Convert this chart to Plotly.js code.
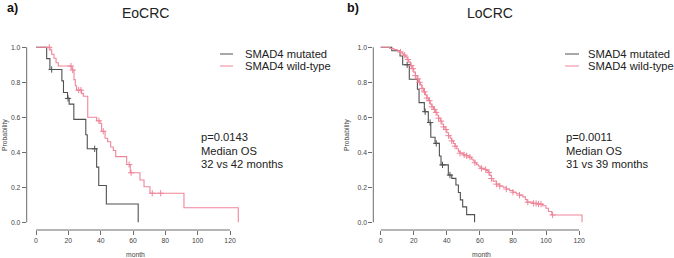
<!DOCTYPE html>
<html>
<head>
<meta charset="utf-8">
<script src="https://cdn.plot.ly/plotly-3.0.1.min.js"></script>
<style>html,body{margin:0;padding:0;background:#fff;}#chart{width:674px;height:258px;}</style>
</head>
<body>
<div id="chart"></div>
<script>
// ---------- DATA ----------
const panelTitles = ["EoCRC", "LoCRC"];
const panelLetters = ["a)", "b)"];
const seriesNames = ["SMAD4 mutated", "SMAD4 wild-type"];
const statsA = ["p=0.0143", "Median OS", "32 vs 42 months"];
const statsB = ["p=0.0011", "Median OS", "31 vs 39 months"];
const xTicks = [0, 20, 40, 60, 80, 100, 120];
const yTicks = [0, 0.2, 0.4, 0.6, 0.8, 1.0];

// Panel a) EoCRC
const aMutT = [0, 6.6, 8.6, 16, 17, 19.5, 20.5, 23.4, 30.8, 31.7, 37.5, 38.8, 43.5, 63.2];
const aMutS = [1, 0.935, 0.873, 0.808, 0.742, 0.708, 0.675, 0.588, 0.50, 0.42, 0.315, 0.21, 0.105, 0];
const aMutCens = [9.7, 19.8, 36.3];

const aWildT = [0, 8.7, 9.7, 11.1, 12.4, 13.8, 22.2, 23.5, 24.3, 25.1, 28.2, 29.3, 32.0, 37.5, 39.6, 40.6, 42.7, 44.3, 46.2, 47.8, 49.3, 56.1, 58.3, 64.3, 66.8, 70.5, 91.5, 125.1];
const aWildS = [1, 0.985, 0.96, 0.937, 0.912, 0.893, 0.87, 0.815, 0.78, 0.755, 0.735, 0.72, 0.60, 0.58, 0.565, 0.52, 0.48, 0.46, 0.43, 0.41, 0.375, 0.33, 0.283, 0.242, 0.203, 0.166, 0.083, 0];
const aWildCens = [8.2, 21.6, 22.7, 26.4, 27.8, 38.9, 41.6, 57.6, 58.8, 71.9, 77.1];

// Panel b) LoCRC
const bMutT = [0, 6.7, 11.7, 13.3, 17.3, 22.2, 23.2, 26.4, 28.8, 30.3, 32.9, 35.5, 36.5, 40.9, 43.0, 45.5, 47.0, 48.2, 49.6, 52.0, 56.8];
const bMutS = [1, 0.98, 0.95, 0.90, 0.817, 0.76, 0.684, 0.632, 0.57, 0.486, 0.451, 0.379, 0.328, 0.27, 0.251, 0.213, 0.17, 0.128, 0.088, 0.044, 0];
const bMutCens = [16.0, 26.9, 29.9, 33.6, 37.4, 41.9];

const bWildT = [0, 5.5, 8, 10, 11.5, 13, 14, 15, 16, 17, 18, 19, 20, 21, 22, 23, 24, 25, 26, 27, 28, 29, 30, 31, 32, 33, 34, 35, 36, 37, 38, 39, 40, 41, 42, 43, 44, 45, 46, 47, 48, 50, 52, 53.5, 55, 56, 57, 58, 59, 60, 61, 63, 64, 65, 66, 67, 68, 70, 72, 74, 76, 78, 80, 82, 84, 86, 87.5, 88.5, 92, 95, 98, 100, 101.5, 103.5, 121.8];
const bWildS = [1, 0.993, 0.987, 0.98, 0.973, 0.963, 0.955, 0.945, 0.93, 0.915, 0.895, 0.878, 0.858, 0.838, 0.82, 0.80, 0.785, 0.765, 0.745, 0.728, 0.71, 0.695, 0.675, 0.66, 0.645, 0.628, 0.612, 0.595, 0.578, 0.56, 0.545, 0.53, 0.512, 0.495, 0.48, 0.465, 0.45, 0.435, 0.42, 0.405, 0.395, 0.385, 0.38, 0.372, 0.36, 0.35, 0.34, 0.33, 0.322, 0.315, 0.308, 0.302, 0.295, 0.285, 0.268, 0.25, 0.235, 0.218, 0.207, 0.2, 0.19, 0.182, 0.172, 0.163, 0.155, 0.145, 0.13, 0.115, 0.108, 0.104, 0.095, 0.08, 0.062, 0.042, 0];
const bWildCens = [12, 14.5, 16.5, 18.5, 19.5, 21, 22.5, 23.5, 25, 26.5, 28, 29.5, 31, 32.5, 33.5, 35, 36.5, 38, 39.5, 41, 43, 45, 48, 50.5, 52, 54, 57, 61, 63.5, 65.5, 67, 70, 72, 76, 80, 84, 89, 92.5, 94, 95.5, 97, 104];

// ---------- STYLE ----------
const GRAY = "#505050";
const PINK = "#ef8599";
const AXC = "#6b6b6b";
const FONT = "Liberation Sans, Arial, sans-serif";
const W = 674, H = 258;
const px = v => v / W;           // pixel -> paper x
const py = v => 1 - v / H;       // pixel -> paper y

function survAt(T, S, t) {
  let v = S[0];
  for (let i = 0; i < T.length; i++) { if (T[i] <= t) v = S[i]; }
  return v;
}

function curve(T, S, color, xa, ya) {
  return { x: T, y: S, type: "scatter", mode: "lines", line: { shape: "hv", color: color, width: 1.1 },
           xaxis: xa, yaxis: ya, showlegend: false, hoverinfo: "skip" };
}
function cens(C, T, S, color, xa, ya) {
  return { x: C, y: C.map(t => survAt(T, S, t)), type: "scatter", mode: "markers",
           marker: { symbol: "cross-thin", size: 4.5, color: color, line: { color: color, width: 1 } },
           xaxis: xa, yaxis: ya, showlegend: false, hoverinfo: "skip" };
}

const traces = [
  curve(aMutT, aMutS, GRAY, "x", "y"),
  curve(aWildT, aWildS, PINK, "x", "y"),
  cens(aMutCens, aMutT, aMutS, GRAY, "x", "y"),
  cens(aWildCens, aWildT, aWildS, PINK, "x", "y"),
  curve(bMutT, bMutS, GRAY, "x2", "y2"),
  curve(bWildT, bWildS, PINK, "x2", "y2"),
  cens(bMutCens, bMutT, bMutS, GRAY, "x2", "y2"),
  cens(bWildCens, bWildT, bWildS, PINK, "x2", "y2"),
];

// panel geometry (pixels)
const P = [
  { axL: 26.7, x0: 36, ppm: 1.617, right: 245, xa: "x", ya: "y", titleX: 145, letterX: 12, legLine: [220, 233], legText: 243, statX: 199, stats: statsA, yTitleX: 5, monthX: 135 },
  { axL: 373.3, x0: 380.7, ppm: 1.653, right: 595, xa: "x2", ya: "y2", titleX: 490, letterX: 353, legLine: [565, 579], legText: 586, statX: 564, stats: statsB, yTitleX: 347, monthX: 481 },
];
const yTopPix = 40, yBotPix = 230, y1Pix = 47.3, y0Pix = 222.3;
const ppp = (y0Pix - y1Pix);
const yRange = [-(yBotPix - y0Pix) / ppp, 1 + (y1Pix - yTopPix) / ppp];
const yDomain = [py(yBotPix), py(yTopPix)];

function xaxisFor(p) {
  return {
    domain: [px(p.axL), px(p.right)],
    range: [-(p.x0 - p.axL) / p.ppm, (p.right - p.x0) / p.ppm],
    tickvals: xTicks, ticktext: xTicks.map(String),
    ticks: "outside", ticklen: 4, tickcolor: AXC, tickwidth: 1,
    showline: false, showgrid: false, zeroline: false,
    tickfont: { family: FONT, size: 6.8, color: "#444" },
    anchor: p.ya, fixedrange: true
  };
}
function yaxisFor(p) {
  return {
    domain: yDomain, range: yRange,
    tickvals: yTicks, ticktext: yTicks.map(v => v.toFixed(1)),
    ticks: "outside", ticklen: 4, tickcolor: AXC, tickwidth: 1,
    showline: false, showgrid: false, zeroline: false,
    tickfont: { family: FONT, size: 6.8, color: "#444" },
    anchor: p.xa, fixedrange: true
  };
}

const shapes = [], annotations = [];
P.forEach((p, i) => {
  const xref = p.xa, yref = p.ya;
  shapes.push({ type: "line", xref: xref, yref: "paper", x0: xTicks[0], x1: xTicks[xTicks.length - 1], y0: py(yBotPix), y1: py(yBotPix), line: { color: AXC, width: 1 } });
  shapes.push({ type: "line", xref: "paper", yref: yref, x0: px(p.axL), x1: px(p.axL), y0: yTicks[0], y1: yTicks[yTicks.length - 1], line: { color: AXC, width: 1 } });
  [GRAY, PINK].forEach((c, k) => {
    const yy = py(54 + k * 12);
    shapes.push({ type: "line", xref: "paper", yref: "paper", x0: px(p.legLine[0]), x1: px(p.legLine[1]), y0: yy, y1: yy, line: { color: c, width: 1 } });
    annotations.push({ xref: "paper", yref: "paper", x: px(p.legText), y: yy, xanchor: "left", yanchor: "middle", showarrow: false,
      text: seriesNames[k], font: { family: FONT, size: 11.2, color: "#222" } });
  });
  annotations.push({ xref: "paper", yref: "paper", x: px(p.titleX), y: py(13), xanchor: "center", yanchor: "middle", showarrow: false,
    text: panelTitles[i], font: { family: FONT, size: 14, color: "#222" } });
  annotations.push({ xref: "paper", yref: "paper", x: px(p.letterX), y: py(8), xanchor: "center", yanchor: "middle", showarrow: false,
    text: "<b>" + panelLetters[i] + "</b>", font: { family: FONT, size: 12.5, color: "#111" } });
  p.stats.forEach((s, k) => {
    annotations.push({ xref: "paper", yref: "paper", x: px(p.statX), y: py(137 + k * 13.7), xanchor: "left", yanchor: "middle", showarrow: false,
      text: s, font: { family: FONT, size: 11.2, color: "#222" } });
  });
  annotations.push({ xref: "paper", yref: "paper", x: px(p.yTitleX), y: py(135), xanchor: "center", yanchor: "middle", showarrow: false, textangle: -90,
    text: "Probability", font: { family: FONT, size: 6.8, color: "#444" } });
  annotations.push({ xref: "paper", yref: "paper", x: px(p.monthX), y: py(254.5), xanchor: "center", yanchor: "middle", showarrow: false,
    text: "month", font: { family: FONT, size: 6.8, color: "#444" } });
});

const layout = {
  width: W, height: H,
  margin: { l: 0, r: 0, t: 0, b: 0, pad: 0 },
  paper_bgcolor: "#fff", plot_bgcolor: "#fff",
  showlegend: false,
  xaxis: xaxisFor(P[0]), yaxis: yaxisFor(P[0]),
  xaxis2: xaxisFor(P[1]), yaxis2: yaxisFor(P[1]),
  shapes: shapes, annotations: annotations,
  font: { family: FONT }
};

Plotly.newPlot("chart", traces, layout, { staticPlot: true, displayModeBar: false });
</script>
</body>
</html>
